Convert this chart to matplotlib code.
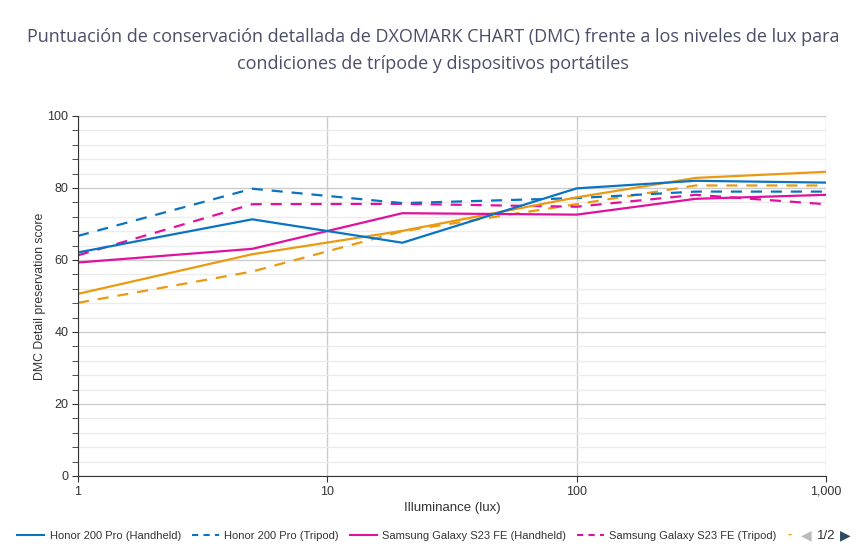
import numpy as np
import matplotlib
matplotlib.use('Agg')
from matplotlib import pyplot as plt
from matplotlib.lines import Line2D
from matplotlib.ticker import FixedLocator, FuncFormatter, NullFormatter

# data
lux = [1, 5, 20, 100, 300, 1000]
honor_hand = [62.1, 71.3, 64.8, 79.9, 82.0, 81.5]
honor_tri = [66.7, 79.8, 75.8, 77.2, 79.0, 79.0]
s23_hand = [59.3, 63.1, 73.0, 72.6, 77.0, 78.1]
s23_tri = [61.3, 75.5, 75.6, 74.8, 78.1, 75.5]
third_hand = [50.6, 61.6, 68.1, 77.4, 82.8, 84.5]
third_tri = [48.1, 56.8, 68.0, 75.5, 80.7, 80.7]

labels = ['Honor 200 Pro (Handheld)', 'Honor 200 Pro (Tripod)',
          'Samsung Galaxy S23 FE (Handheld)', 'Samsung Galaxy S23 FE (Tripod)']
blue = '#0a74c2'
pink = '#e0119d'
orange = '#eb9a10'
title = ('Puntuación de conservación detallada de DXOMARK CHART (DMC) frente a los niveles de lux para\n'
         'condiciones de trípode y dispositivos portátiles')

def main():
    plt.rcParams['font.family'] = ['Liberation Sans', 'DejaVu Sans']
    fig = plt.figure(figsize=(8.66, 5.51), dpi=100)
    ax = fig.add_axes([78/866, 75/551, 748/866, 360/551])

    lw = 1.6
    dash = (0, (5, 4))
    ax.plot(lux, third_tri, color=orange, lw=lw, ls=dash)
    ax.plot(lux, s23_tri, color=pink, lw=lw, ls=dash)
    ax.plot(lux, honor_tri, color=blue, lw=lw, ls=dash)
    ax.plot(lux, third_hand, color=orange, lw=lw)
    ax.plot(lux, s23_hand, color=pink, lw=lw)
    ax.plot(lux, honor_hand, color=blue, lw=lw)

    ax.set_xscale('log')
    ax.set_xlim(1, 1000)
    ax.set_ylim(0, 100)
    ax.xaxis.set_major_locator(FixedLocator([1, 10, 100, 1000]))
    ax.xaxis.set_minor_locator(FixedLocator([]))
    ax.xaxis.set_major_formatter(FuncFormatter(lambda v, p: '{:,.0f}'.format(v)))
    ax.xaxis.set_minor_formatter(NullFormatter())
    ax.yaxis.set_major_locator(FixedLocator([0, 20, 40, 60, 80, 100]))
    ax.yaxis.set_minor_locator(FixedLocator([v for v in range(0, 101, 4) if v % 20]))

    ax.grid(True, which='major', axis='both', color='#cccccc', lw=1)
    ax.grid(True, which='minor', axis='y', color='#ececec', lw=1)
    ax.set_axisbelow(True)
    for s in ['top', 'right']:
        ax.spines[s].set_visible(False)
    ax.spines['left'].set_color('#333333')
    ax.spines['bottom'].set_color('#333333')
    ax.tick_params(axis='y', which='both', length=4, color='#333333', labelsize=9,
                   labelcolor='#333333', pad=3)
    ax.tick_params(axis='x', which='major', length=4, color='#333333', labelsize=9,
                   labelcolor='#333333', pad=3)

    ax.set_xlabel('Illuminance (lux)', fontsize=9.5, color='#333333', labelpad=3)
    ax.set_ylabel('DMC Detail preservation score', fontsize=8.8, color='#333333', va='center')
    ax.yaxis.set_label_coords(-0.051, 0.5)

    fig.text(0.5, 0.908, title, ha='center', va='center', fontsize=13, color='#4a4e69',
             family='Open Sans', linespacing=1.65)

    handles = [Line2D([], [], color=blue, lw=1.5),
               Line2D([], [], color=blue, lw=1.5, ls=(0, (3, 2.5))),
               Line2D([], [], color=pink, lw=1.5),
               Line2D([], [], color=pink, lw=1.5, ls=(0, (3, 2.5)))]
    leg = fig.legend(handles, labels, loc='center left', bbox_to_anchor=(0.02, 0.028),
                     ncol=4, frameon=False, fontsize=8, handlelength=2.4, handletextpad=0.5,
                     columnspacing=1.0, borderpad=0, borderaxespad=0)
    for t in leg.get_texts():
        t.set_color('#333333')
    fig.text(0.912, 0.03, '-', ha='center', va='center', fontsize=9, color=orange,
             fontweight='bold')
    fig.text(0.931, 0.028, '◀', ha='center', va='center', fontsize=10, color='#bbbbbb',
             family='DejaVu Sans')
    fig.text(0.954, 0.028, '1/2', ha='center', va='center', fontsize=9.5, color='#333333')
    fig.text(0.976, 0.028, '▶', ha='center', va='center', fontsize=10, color='#2e4a62',
             family='DejaVu Sans')

    fig.savefig('out.png', dpi=100)

if __name__ == "__main__":
    main()
